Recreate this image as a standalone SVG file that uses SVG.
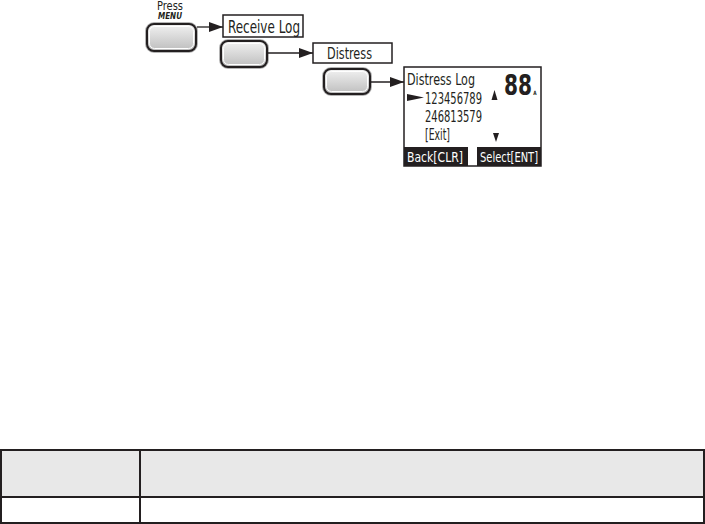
<svg xmlns="http://www.w3.org/2000/svg" width="705" height="524" viewBox="0 0 705 524">
<style>
.t{font-family:"Liberation Sans Narrow","DejaVu Sans Condensed","Liberation Sans",sans-serif;fill:#231f20}
.w{font-family:"Liberation Sans Narrow","DejaVu Sans Condensed","Liberation Sans",sans-serif;fill:#ffffff}
.halo{fill:none;stroke:#b5b5b5;stroke-width:4}
.btn{fill:url(#g);stroke:#231f20;stroke-width:2}
.inner{fill:none;stroke:#ffffff;stroke-width:1}
.box{fill:#ffffff;stroke:#231f20;stroke-width:1.5}
.con{fill:none;stroke:#231f20;stroke-width:1.3}
.tl{stroke:#231f20;stroke-width:2;fill:none}
</style>
<defs>
<linearGradient id="g" x1="0" y1="0" x2="0" y2="1">
<stop offset="0" stop-color="#f2f2f2"/>
<stop offset="1" stop-color="#bdbdbd"/>
</linearGradient>
<marker id="ah" markerWidth="14" markerHeight="10" refX="14" refY="5" orient="auto" markerUnits="userSpaceOnUse">
<path d="M0,0 L14,5 L0,10 Z" fill="#231f20"/>
</marker>
</defs>

<g id="press-label">
<text class="t" x="157" y="9.5" font-size="12" textLength="26" lengthAdjust="spacingAndGlyphs">Press</text>
<text class="t" x="158" y="19" font-size="8.5" font-weight="bold" font-style="italic" textLength="24" lengthAdjust="spacingAndGlyphs">MENU</text>
</g>

<g id="button-menu">
<rect class="halo" x="147" y="24" width="49" height="27" rx="7"/>
<rect class="btn" x="147" y="24" width="49" height="27" rx="7"/>
<rect class="inner" x="149.5" y="26.5" width="44" height="22" rx="5"/>
</g>

<g id="receive-log">
<rect class="box" x="223" y="15" width="80" height="22"/>
<text class="t" x="228" y="33" font-size="17" textLength="72" lengthAdjust="spacingAndGlyphs">Receive Log</text>
</g>

<g id="button-2">
<rect class="halo" x="221" y="41" width="46" height="26" rx="7"/>
<rect class="btn" x="221" y="41" width="46" height="26" rx="7"/>
<rect class="inner" x="223.5" y="43.5" width="41" height="21" rx="5"/>
</g>

<g id="distress">
<rect class="box" x="313" y="43" width="79" height="20"/>
<text class="t" x="327" y="58.5" font-size="16" textLength="45" lengthAdjust="spacingAndGlyphs">Distress</text>
</g>

<g id="button-3">
<rect class="halo" x="324" y="69" width="46" height="25" rx="7"/>
<rect class="btn" x="324" y="69" width="46" height="25" rx="7"/>
<rect class="inner" x="326.5" y="71.5" width="41" height="20" rx="5"/>
</g>

<g id="screen">
<rect class="box" x="404" y="67" width="137" height="99"/>
<text class="t" x="407" y="85" font-size="16" textLength="68" lengthAdjust="spacingAndGlyphs">Distress Log</text>
<path d="M407,94 L424,97.5 L407,101 Z" fill="#231f20"/>
<text class="t" x="425" y="103.5" font-size="15" textLength="57" lengthAdjust="spacingAndGlyphs">123456789</text>
<text class="t" x="425" y="122" font-size="15" textLength="57" lengthAdjust="spacingAndGlyphs">246813579</text>
<text class="t" x="425" y="140" font-size="15" textLength="25" lengthAdjust="spacingAndGlyphs">[Exit]</text>
<text class="t" transform="translate(504,95) scale(0.8,1)" font-size="28" font-weight="bold">88<tspan font-size="6" dx="1.5">A</tspan></text>
<path d="M491.5,100 L494.5,90 L497.5,100 Z" fill="#231f20"/>
<path d="M493,133 L499,133 L496,142 Z" fill="#231f20"/>
<rect x="404" y="147" width="64" height="19" fill="#231f20"/>
<rect x="477" y="147" width="64" height="19" fill="#231f20"/>
<text class="w" x="407" y="162" font-size="14" textLength="56" lengthAdjust="spacingAndGlyphs">Back[CLR]</text>
<text class="w" x="480" y="162" font-size="14" textLength="58" lengthAdjust="spacingAndGlyphs">Select[ENT]</text>
</g>

<g id="connectors">
<line class="con" x1="197" y1="27" x2="223" y2="27" marker-end="url(#ah)"/>
<line class="con" x1="267" y1="53" x2="313" y2="53" marker-end="url(#ah)"/>
<line class="con" x1="370" y1="82" x2="404" y2="82" marker-end="url(#ah)"/>
</g>

<g id="table">
<rect x="1" y="450" width="703" height="47" fill="#e8e8e8"/>
<rect class="tl" x="1" y="450" width="703" height="73"/>
<line class="tl" x1="1" y1="497" x2="704" y2="497"/>
<line class="tl" x1="140" y1="450" x2="140" y2="523"/>
</g>
</svg>
